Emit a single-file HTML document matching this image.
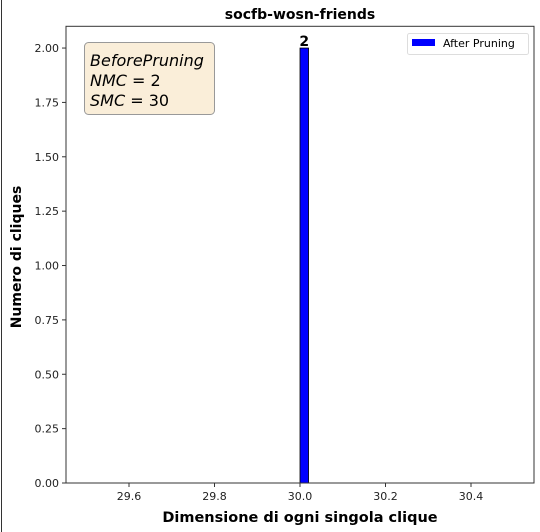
<!DOCTYPE html>
<html><head><meta charset="utf-8"><style>
body{margin:0;background:#fff}
svg{font-family:"DejaVu Sans","Liberation Sans",sans-serif;display:block}
</style></head><body>
<svg width="540" height="532" viewBox="0 0 540 532" id="svg">
<rect x="0" y="0" width="540" height="532" fill="#fff"/>
<line x1="1.5" y1="0" x2="1.5" y2="532" stroke="#333" stroke-width="1"/>
<text x="300" y="19" text-anchor="middle" font-size="14" font-weight="bold">socfb-wosn-friends</text>
<g id="bars"></g>
<g id="axes"></g>
<text x="300" y="522" text-anchor="middle" font-size="14.5" font-weight="bold">Dimensione di ogni singola clique</text>
<text transform="translate(21,257) rotate(-90)" text-anchor="middle" font-size="14" font-weight="bold">Numero di cliques</text>
<g>
<rect x="84.5" y="42.5" width="130" height="72" rx="4" fill="#f5deb3" fill-opacity="0.5" stroke="#999"/>
<text x="90" y="66" font-size="16" font-style="italic">BeforePruning</text>
<text x="90" y="86" font-size="16"><tspan font-style="italic">NMC</tspan> = 2</text>
<text x="90" y="106" font-size="16"><tspan font-style="italic">SMC</tspan> = 30</text>
</g>
<g>
<rect x="407.5" y="33.5" width="121" height="21" rx="2" fill="#fff" stroke="#ddd"/>
<rect x="412" y="39" width="23" height="7" fill="#0000ff"/>
<text x="443" y="47" font-size="11">After Pruning</text>
</g>
</svg>
<script>
const categories = [30.0];
const values = [2];
const xTicks = [29.6, 29.8, 30.0, 30.2, 30.4];
const yTicks = [0, 0.25, 0.5, 0.75, 1.0, 1.25, 1.5, 1.75, 2.0];
const barWidth = 0.02;
const L=66,R=534,T=26.3,B=483, X0=29.4526,X1=30.5474, Y0=0, Y1=2.1;
const xs=v=>L+(v-X0)/(X1-X0)*(R-L);
const ys=v=>B-(v-Y0)/(Y1-Y0)*(B-T);
const NS="http://www.w3.org/2000/svg";
const bars=document.getElementById('bars'), axes=document.getElementById('axes');
function mk(tag,attrs,parent){const e=document.createElementNS(NS,tag);for(const k in attrs)e.setAttribute(k,attrs[k]);parent.appendChild(e);return e;}
categories.forEach((c,i)=>{
  const x=xs(c), w=xs(c+barWidth)-x, y=ys(values[i]);
  const r=mk('rect',{x:x,y:y,width:w,height:B-y,fill:'#0000ff',stroke:'#000','stroke-width':0.8},bars);
  
  
  const t=mk('text',{x:x+w/2,y:y-2,'text-anchor':'middle','font-size':14,'font-weight':'bold'},bars);
  t.textContent=values[i];
  
  
});
const fr=mk('rect',{x:L,y:T,width:R-L,height:B-T,fill:'none',stroke:'#333','stroke-width':1},axes);


xTicks.forEach(v=>{
  const x=xs(v);
  const l=mk('line',{x1:x,y1:B,x2:x,y2:B+4,stroke:'#333'},axes);
  
  
  const t=mk('text',{x:x,y:B+17,'text-anchor':'middle','font-size':11,fill:'#222'},axes);
  t.textContent=v.toFixed(1);
  
  
});
yTicks.forEach(v=>{
  const y=ys(v);
  const l=mk('line',{x1:L-4,y1:y,x2:L,y2:y,stroke:'#333'},axes);
  
  
  const t=mk('text',{x:L-7,y:y+4,'text-anchor':'end','font-size':11,fill:'#222'},axes);
  t.textContent=v.toFixed(2);
  
  
});
</script>
</body></html>
